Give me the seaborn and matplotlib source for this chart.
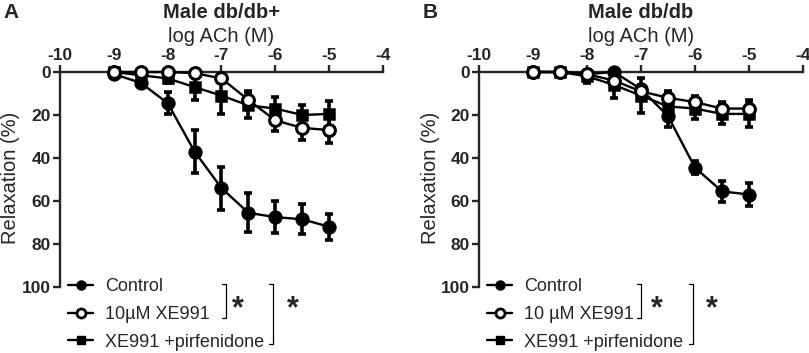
import numpy as np
import pandas as pd
import seaborn as sns
import matplotlib.pyplot as plt
from matplotlib.lines import Line2D

log_ach = [-9, -8.5, -8, -7.5, -7, -6.5, -6, -5.5, -5]
groups = ['Control', 'XE991', 'XE991 +pirfenidone']

# panel A: male db/db+
a_control = [1, 5, 14.5, 37, 54, 65.5, 67.5, 68.5, 72]
a_control_err = [0.5, 2, 5, 10, 10, 9, 7.5, 7, 6]
a_xe991 = [0, 0, 0, 0.5, 3, 13, 22.5, 26, 27]
a_xe991_err = [0.5, 0.5, 1, 1, 2, 4, 5, 5.5, 6]
a_pirf = [0, 1.5, 3, 7, 11, 15.5, 17, 20, 19.5]
a_pirf_err = [0.5, 1.5, 2, 6, 8.5, 6, 5.5, 4.5, 6]

# panel B: male db/db
b_control = [0, 0, 1, 0, 8, 20.5, 44.5, 55.5, 57]
b_control_err = [0.5, 0.5, 1, 0.5, 2, 5, 3, 5, 5.5]
b_xe991 = [0, 0, 1, 4, 9, 12, 14, 17, 17]
b_xe991_err = [0.5, 0.5, 1, 2, 3, 3, 3, 3, 4]
b_pirf = [0, 0, 2, 6, 11, 16, 17, 19.5, 19.5]
b_pirf_err = [0.5, 0.5, 3, 6, 8, 4, 5, 4.5, 6]

sns.set_theme(style='ticks')
plt.rcParams['font.family'] = ['Liberation Sans', 'DejaVu Sans']
plt.rcParams['axes.unicode_minus'] = False

W, H = 809, 353
fig = plt.figure(figsize=(W / 100, H / 100), dpi=100)


def fx(px):
    return px / W


def fy(py):
    return 1 - py / H


def panel(left_px, right_px, letter, title, xe_label, vals, errs):
    ax = fig.add_axes([fx(left_px), fy(287), fx(right_px - left_px), (287 - 72) / H])
    df = pd.DataFrame({
        'logach': log_ach * 3,
        'relax': vals[0] + vals[1] + vals[2],
        'group': np.repeat(groups, len(log_ach)),
    })
    for (g, v, e) in zip(groups, vals, errs):
        ax.errorbar(log_ach, v, yerr=e, fmt='none', ecolor='black',
                    elinewidth=2.6, capsize=3.2, capthick=2.6, zorder=2)
    sns.lineplot(data=df, x='logach', y='relax', hue='group', style='group',
                 markers={'Control': 'o', 'XE991': 'o', 'XE991 +pirfenidone': 's'},
                 dashes=False, palette=['black'] * 3, markersize=8.5,
                 linewidth=1.7, markeredgewidth=1.8, markeredgecolor='black',
                 legend=False, ax=ax, zorder=3)
    ax.lines[-2].set_markerfacecolor('white')
    ax.lines[-2].set_markeredgewidth(2.2)
    ax.lines[-2].set_zorder(4)
    ax.lines[-1].set_markersize(7.5)

    ax.set_xlim(-10, -4)
    ax.set_ylim(100, 0)
    ax.set_xticks(range(-10, -3))
    ax.set_yticks(range(0, 101, 20))
    ax.xaxis.tick_top()
    ax.spines['bottom'].set_visible(False)
    ax.spines['right'].set_visible(False)
    for s in ['top', 'left']:
        ax.spines[s].set_linewidth(1.7)
    ax.tick_params(width=1.7, length=5, labelsize=12.5, pad=1.5)
    for lab in ax.get_xticklabels() + ax.get_yticklabels():
        lab.set_fontweight('bold')
    ax.set_xlabel('')
    ax.set_ylabel('')
    for ln in ax.lines:
        ln.set_clip_on(False)

    cx = (left_px + right_px) / 2
    fig.text(fx(cx), fy(13), title, ha='center', va='center', fontsize=14.5, fontweight='bold')
    fig.text(fx(cx), fy(37), 'log ACh (M)', ha='center', va='center', fontsize=14.5)
    fig.text(fx(left_px - 49), fy(13), letter, ha='center', va='center', fontsize=15, fontweight='bold')
    fig.text(fx(left_px - 49), fy(178), 'Relaxation (%)', ha='center', va='center',
             fontsize=14.5, rotation=90)

    handles = [
        Line2D([], [], color='black', marker='o', markersize=6.5, lw=1.7),
        Line2D([], [], color='black', marker='o', markersize=6.5, lw=1.7,
               markerfacecolor='white', markeredgewidth=2),
        Line2D([], [], color='black', marker='s', markersize=6, lw=1.7),
    ]
    fig.legend(handles, ['Control', xe_label, 'XE991 +pirfenidone'],
               loc='upper left', bbox_to_anchor=(fx(left_px + 8), fy(278)),
               frameon=False, fontsize=13, handlelength=1.4, handletextpad=0.65,
               labelspacing=0.6, borderpad=0, borderaxespad=0)
    return ax


panel(60, 383, 'A', 'Male db/db+', '10µM XE991',
      [a_control, a_xe991, a_pirf], [a_control_err, a_xe991_err, a_pirf_err])
panel(479, 803, 'B', 'Male db/db', '10 µM XE991',
      [b_control, b_xe991, b_pirf], [b_control_err, b_xe991_err, b_pirf_err])


def bracket(x, y0, y1):
    fig.add_artist(Line2D([fx(x - 4), fx(x), fx(x), fx(x - 4)],
                          [fy(y0), fy(y0), fy(y1), fy(y1)], color='black', lw=0.9))


for (b1, s1, b2, s2) in [(226, 238, 273, 293), (641, 657, 693, 712)]:
    bracket(b1, 284, 318)
    bracket(b2, 284, 344)
    fig.text(fx(s1), fy(309), '*', ha='center', va='center', fontsize=22, fontweight='bold')
    fig.text(fx(s2), fy(309), '*', ha='center', va='center', fontsize=22, fontweight='bold')

fig.savefig('out.png', dpi=100)
